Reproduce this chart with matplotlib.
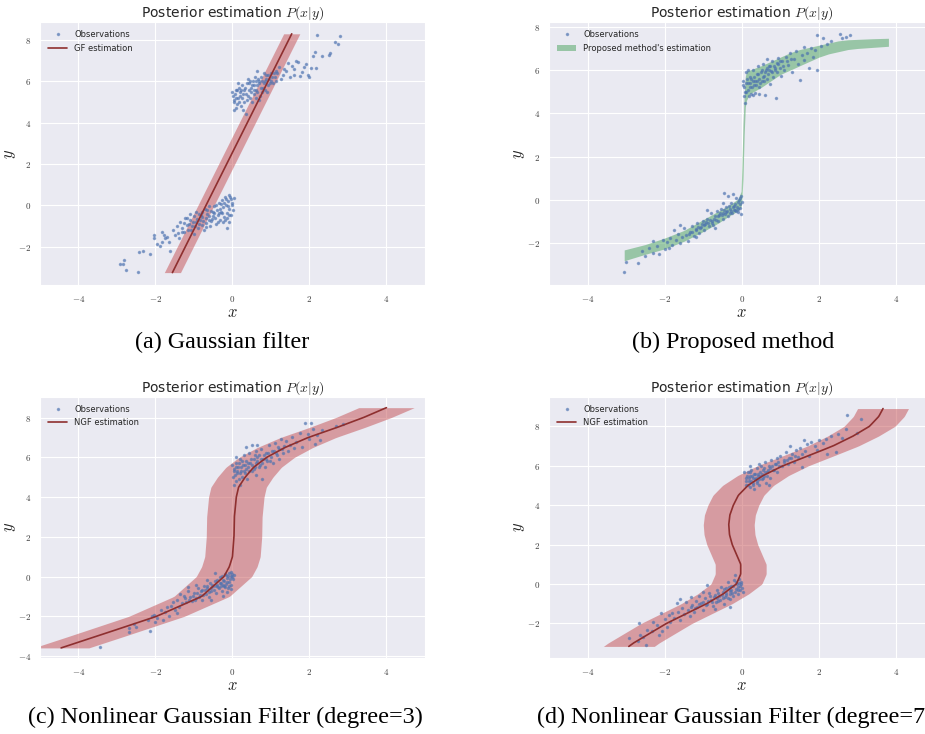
"""Posterior estimation P(x|y): Gaussian filter vs proposed method vs nonlinear Gaussian filters."""

import matplotlib
matplotlib.use("Agg")
import matplotlib.pyplot as plt
import numpy as np
import seaborn as sns
from matplotlib.ticker import FuncFormatter

sns.set_style("darkgrid")
plt.rcParams["font.family"] = ["DejaVu Sans"]
plt.rcParams["mathtext.fontset"] = "cm"

BLUE = "#4C72B0"
LINE_RED = "#8E2F2F"
BAND_RED = "#C44E52"
BAND_GREEN = "#55A868"

# ---------------------------------------------------------------- observations
obs_a = [
    # lower cluster
    (-2.83, -2.65), (-2.93, -2.84), (-2.84, -2.84), (-2.76, -3.13), (-2.46, -3.24),
    (-2.42, -2.24), (-2.33, -2.21), (-2.14, -2.36), (-2.04, -1.6), (-2.03, -1.44),
    (-1.97, -1.87), (-1.88, -1.95), (-1.84, -1.76), (-1.75, -1.6), (-1.79, -1.44),
    (-1.71, -1.52), (-1.64, -1.76), (-1.62, -2.21), (-1.84, -1.27), (-1.55, -1.2),
    (-1.5, -1.45), (-1.45, -1.0), (-1.42, -1.35), (-1.38, -1.6), (-1.35, -0.8),
    (-1.3, -1.1), (-1.25, -1.3), (-1.22, -0.6), (-1.18, -0.95), (-1.15, -1.2),
    (-1.1, -0.7), (-1.05, -1.0), (-1.0, -0.5), (-1.0, -1.4), (-0.95, -0.8),
    (-0.9, -1.1), (-0.88, -0.4), (-0.85, -0.7), (-0.8, -0.95), (-0.78, -0.3),
    (-0.75, -1.2), (-0.7, -0.6), (-0.68, -0.85), (-0.65, -0.2), (-0.6, -0.5),
    (-0.58, -1.0), (-0.55, -0.75), (-0.5, -0.3), (-0.48, -0.05), (-0.45, -0.6),
    (-0.42, -0.9), (-0.4, -0.2), (-0.38, -0.45), (-0.35, 0.1), (-0.32, -0.7),
    (-0.3, -0.3), (-0.28, 0.25), (-0.25, -0.1), (-0.22, -0.55), (-0.2, 0.4),
    (-0.18, 0.0), (-0.15, -0.35), (-0.12, 0.2), (-0.1, -0.8), (-0.1, 0.5),
    (-0.08, -0.15), (-0.05, 0.3), (-0.03, -0.45), (0.0, 0.1), (0.02, -0.2),
    (0.05, 0.35), (-0.6, -0.05), (-0.8, -0.55), (-0.95, -0.3), (-1.1, -0.4),
    (-0.5, -0.5), (-0.25, -0.8), (-0.15, -1.1), (-0.7, -1.05), (-0.35, -0.35),
    (-0.02, 0.0), (-0.07, 0.4), (-0.13, -0.6), (-0.17, 0.3), (-0.23, 0.1),
    (-0.27, -0.35), (-0.33, -0.15), (-0.37, -0.8), (-0.43, 0.0), (-0.47, -0.35),
    (-0.52, -0.65), (-0.57, -0.25), (-0.62, -0.7), (-0.67, -0.4), (-0.72, -0.15),
    (-0.77, -0.75), (-0.82, -0.45), (-0.87, -0.9), (-0.92, -0.65), (-0.97, -1.0),
    (-1.02, -0.8), (-1.07, -1.2), (-1.12, -0.9), (-1.17, -0.6), (-1.27, -0.85),
    (-1.32, -1.3), (-0.08, -0.45), (-0.12, -0.05), (-0.2, -0.7), (-0.3, 0.05),
    # upper cluster
    (2.19, 8.24), (2.8, 8.19), (2.67, 7.92), (2.74, 7.83), (2.15, 7.4),
    (2.1, 7.24), (2.32, 7.24), (2.51, 7.27), (2.54, 7.35), (2.04, 6.66),
    (2.17, 6.66), (1.95, 6.3), (1.9, 6.85), (1.85, 6.7), (1.65, 6.98),
    (1.7, 6.95), (1.6, 6.6), (1.55, 6.75), (1.45, 6.9), (1.4, 6.5),
    (1.8, 6.45), (1.5, 6.2), (1.35, 6.6), (1.3, 6.3), (1.2, 6.7),
    (1.25, 6.1), (1.15, 6.4), (1.6, 6.3), (2.0, 6.2), (1.75, 6.25),
    (0.0, 5.5), (0.05, 5.0), (0.1, 4.7), (0.02, 5.3), (0.08, 5.6),
    (0.15, 5.2), (0.2, 5.5), (0.12, 4.9), (0.25, 5.8), (0.3, 5.0),
    (0.35, 5.4), (0.28, 4.6), (0.4, 6.1), (0.42, 5.6), (0.45, 5.2),
    (0.5, 5.8), (0.55, 5.4), (0.6, 6.0), (0.62, 5.6), (0.65, 6.5),
    (0.7, 5.9), (0.72, 5.3), (0.75, 6.2), (0.8, 5.7), (0.85, 6.0),
    (0.88, 6.3), (0.9, 5.5), (0.95, 6.1), (1.0, 6.4), (1.05, 5.9),
    (1.1, 6.2), (1.12, 6.5), (0.35, 4.4), (0.18, 5.7), (0.22, 4.8),
    (0.5, 5.0), (0.58, 6.2), (0.68, 5.1), (0.78, 5.5), (0.82, 6.4),
    (0.3, 5.6), (0.15, 5.9), (0.38, 5.9), (0.48, 5.5), (0.05, 4.6),
    (0.92, 5.8), (1.0, 6.0), (0.6, 5.2), (0.25, 5.2), (0.7, 6.0),
    (0.03, 5.1), (0.07, 5.4), (0.1, 5.2), (0.13, 5.6), (0.17, 5.0),
    (0.23, 5.6), (0.27, 5.4), (0.33, 5.7), (0.37, 5.1), (0.43, 5.9),
    (0.47, 5.7), (0.53, 6.0), (0.57, 5.6), (0.63, 5.8), (0.67, 6.1),
    (0.73, 5.7), (0.77, 6.0), (0.83, 5.9), (0.87, 6.1), (0.93, 6.3),
    (0.97, 5.9), (1.03, 6.2), (1.07, 6.4), (1.13, 6.0), (0.4, 5.3),
    (0.55, 5.8), (0.2, 5.3), (0.85, 5.6), (0.65, 5.5), (0.45, 6.0),
]

obs_b = [
    (-3.05, -3.3), (-3.0, -2.85), (-2.7, -2.9), (-2.6, -2.35), (-2.5, -2.6),
    (-2.4, -2.2), (-2.3, -2.45), (-2.2, -2.1), (-2.15, -2.5), (-2.05, -1.85),
    (-2.0, -2.25), (-1.95, -1.95), (-1.9, -2.2), (-1.85, -1.75), (-1.8, -2.05),
    (-1.75, -1.4), (-1.7, -1.85), (-1.65, -1.55), (-1.6, -2.0), (-1.55, -1.7),
    (-1.5, -1.3), (-1.45, -1.6), (-1.4, -1.9), (-1.35, -1.45), (-1.3, -1.2),
    (-1.25, -1.65), (-1.2, -1.35), (-1.15, -1.05), (-1.1, -1.5), (-1.05, -1.25),
    (-1.0, -0.95), (-0.98, -1.4), (-0.95, -1.1), (-0.9, -0.85), (-0.85, -1.2),
    (-0.8, -0.6), (-0.78, -0.95), (-0.75, -1.15), (-0.7, -0.75), (-0.65, -0.5),
    (-0.62, -0.95), (-0.6, -0.7), (-0.55, -0.4), (-0.5, -0.85), (-0.48, -0.6),
    (-0.45, 0.35), (-0.42, -0.3), (-0.4, -0.55), (-0.35, 0.2), (-0.35, -0.75),
    (-0.3, -0.4), (-0.28, -0.15), (-0.25, -0.6), (-0.22, 0.3), (-0.2, -0.25),
    (-0.18, -0.45), (-0.15, 0.1), (-0.12, -0.3), (-0.1, -0.55), (-0.08, 0.0),
    (-0.05, -0.2), (-0.03, -0.65), (-0.02, 0.2), (0.0, -0.1), (-0.9, -0.45),
    (-1.2, -1.7), (-1.6, -1.15), (-2.3, -1.9), (-0.7, -1.3), (-0.5, -0.15),
    (-0.04, -0.35), (-0.06, 0.1), (-0.09, -0.4), (-0.11, -0.1), (-0.14, -0.5),
    (-0.17, -0.2), (-0.21, -0.45), (-0.24, -0.3), (-0.27, -0.5), (-0.31, -0.6),
    (-0.33, -0.25), (-0.38, -0.5), (-0.44, -0.65), (-0.47, -0.45), (-0.52, -0.7),
    (-0.57, -0.6), (-0.63, -0.75), (-0.68, -0.9), (-0.73, -0.85), (-0.77, -1.05),
    (-0.83, -0.9), (-0.88, -1.05), (-0.93, -1.0), (-0.97, -1.15), (-1.03, -1.1),
    (-1.08, -1.3), (-1.13, -1.25), (-1.18, -1.4), (-1.28, -1.45), (-1.38, -1.55),
    (0.02, 5.5), (0.05, 4.8), (0.05, 5.2), (0.08, 4.5), (0.1, 5.9),
    (0.12, 5.0), (0.15, 5.4), (0.18, 4.8), (0.2, 5.7), (0.22, 5.2),
    (0.25, 4.9), (0.28, 5.5), (0.3, 6.0), (0.32, 5.3), (0.35, 4.95),
    (0.38, 5.8), (0.4, 5.5), (0.42, 6.2), (0.45, 5.2), (0.5, 5.9),
    (0.52, 5.5), (0.55, 6.3), (0.58, 5.75), (0.6, 4.85), (0.62, 6.0),
    (0.65, 5.6), (0.7, 6.2), (0.72, 5.35), (0.75, 5.95), (0.78, 6.4),
    (0.8, 5.7), (0.85, 6.1), (0.88, 4.7), (0.9, 6.35), (0.92, 5.9),
    (0.95, 6.55), (1.0, 6.1), (1.02, 5.75), (1.05, 6.4), (1.1, 6.0),
    (1.15, 6.6), (1.2, 6.25), (1.25, 6.8), (1.3, 5.9), (1.35, 6.5),
    (1.4, 6.9), (1.45, 6.3), (1.5, 5.55), (1.55, 6.7), (1.6, 7.05),
    (1.62, 6.45), (1.7, 6.8), (1.75, 6.1), (1.8, 7.0), (1.85, 6.6),
    (1.9, 6.95), (1.95, 7.6), (1.95, 6.0), (2.05, 7.1), (2.1, 7.5),
    (2.2, 7.2), (2.3, 7.35), (2.55, 7.65), (2.6, 7.5), (2.7, 7.55),
    (2.8, 7.6), (0.15, 6.0), (0.3, 4.85), (0.45, 4.9), (0.65, 6.5),
    (0.04, 5.3), (0.07, 5.0), (0.1, 5.4), (0.13, 5.6), (0.17, 5.1),
    (0.21, 5.4), (0.24, 5.6), (0.27, 5.2), (0.31, 5.7), (0.34, 5.5),
    (0.37, 5.3), (0.41, 5.8), (0.44, 5.6), (0.48, 5.4), (0.51, 6.0),
    (0.54, 5.7), (0.57, 5.5), (0.61, 5.9), (0.64, 6.1), (0.68, 5.8),
    (0.71, 6.0), (0.74, 6.2), (0.79, 5.9), (0.83, 6.2), (0.87, 6.0),
    (0.94, 6.3), (0.98, 6.4), (1.07, 6.2), (1.17, 6.4), (1.27, 6.5),
]

obs_c = [
    (-3.45, -3.55), (-2.7, -2.8), (-2.7, -2.6), (-2.55, -2.4), (-2.15, -2.75),
    (-2.1, -2.0), (-2.05, -1.95), (-2.0, -2.3), (-1.95, -2.1), (-1.85, -1.7),
    (-1.8, -2.2), (-1.75, -1.8), (-1.7, -1.55), (-1.65, -2.0), (-1.6, -1.5),
    (-1.55, -1.3), (-1.5, -1.7), (-1.45, -1.2), (-1.4, -1.55), (-1.35, -0.9),
    (-1.3, -1.35), (-1.25, -1.0), (-1.2, -1.3), (-1.15, -0.75), (-1.1, -1.05),
    (-1.05, -1.25), (-1.0, -0.85), (-0.95, -1.1), (-0.9, -0.6), (-0.85, -0.95),
    (-0.8, -1.2), (-0.78, -0.7), (-0.75, -0.45), (-0.7, -0.9), (-0.65, -0.6),
    (-0.6, -1.05), (-0.58, -0.3), (-0.55, -0.75), (-0.5, -0.5), (-0.45, -0.2),
    (-0.42, -0.85), (-0.4, -0.4), (-0.35, -0.6), (-0.32, 0.0), (-0.3, -0.3),
    (-0.28, -0.75), (-0.25, -0.15), (-0.22, -0.5), (-0.2, 0.15), (-0.18, -0.35),
    (-0.15, -0.05), (-0.12, -0.6), (-0.1, 0.2), (-0.08, -0.25), (-0.05, 0.05),
    (-0.03, -0.4), (0.0, 0.15), (0.02, -0.1), (0.05, 0.1), (-0.45, 0.2),
    (-0.65, -0.15), (-0.95, -0.4), (-1.15, -0.55), (-0.25, -1.0), (-0.15, -0.8),
    (-1.45, -1.85), (-2.2, -2.2), (-2.5, -2.55), (-0.55, -1.2), (-0.05, -0.65),
    (-0.02, 0.0), (-0.04, 0.25), (-0.07, -0.1), (-0.09, -0.45), (-0.11, 0.05),
    (-0.14, -0.25), (-0.17, 0.1), (-0.19, -0.55), (-0.21, -0.2), (-0.24, -0.4),
    (-0.27, 0.05), (-0.29, -0.5), (-0.33, -0.3), (-0.37, -0.55), (-0.39, -0.15),
    (-0.43, -0.5), (-0.47, -0.7), (-0.52, -0.4), (-0.57, -0.6), (-0.62, -0.8),
    (-0.67, -0.45), (-0.72, -0.7), (-0.77, -0.95), (-0.82, -0.75), (-0.87, -1.05),
    (-0.92, -0.85), (-0.97, -1.2), (-1.03, -1.0), (-1.12, -1.2), (-1.22, -1.1),
    (0.0, 5.6), (0.02, 5.0), (0.03, 4.6), (0.05, 5.3), (0.08, 5.7),
    (0.1, 4.8), (0.12, 5.2), (0.15, 5.5), (0.18, 4.9), (0.2, 5.9),
    (0.22, 5.3), (0.25, 5.0), (0.28, 5.6), (0.3, 6.1), (0.32, 5.2),
    (0.35, 5.8), (0.38, 4.9), (0.4, 5.5), (0.42, 6.2), (0.45, 5.7),
    (0.5, 6.6), (0.5, 5.3), (0.55, 5.9), (0.58, 5.5), (0.6, 6.3),
    (0.62, 5.1), (0.65, 5.8), (0.7, 6.1), (0.72, 5.6), (0.75, 6.4),
    (0.78, 4.9), (0.8, 5.9), (0.85, 5.5), (0.88, 6.2), (0.9, 5.8),
    (0.95, 6.6), (1.0, 6.0), (1.05, 5.7), (1.08, 6.3), (1.1, 6.7),
    (1.15, 6.1), (1.2, 6.4), (1.22, 5.9), (1.25, 6.9), (1.3, 6.2),
    (1.35, 6.55), (1.4, 6.8), (1.45, 6.3), (1.5, 6.6), (1.55, 7.0),
    (1.6, 6.45), (1.65, 6.75), (1.8, 6.5), (1.89, 7.73), (2.04, 7.74),
    (2.1, 7.44), (2.32, 7.36), (2.69, 7.6), (2.88, 7.7), (2.15, 6.68),
    (2.28, 6.85), (1.95, 7.15), (2.0, 6.9), (2.2, 7.1), (1.75, 7.2),
    (0.35, 6.5), (0.1, 6.0), (0.2, 4.6), (0.65, 6.6),
    (0.03, 5.4), (0.06, 5.1), (0.09, 5.5), (0.13, 5.3), (0.16, 5.7),
    (0.19, 5.2), (0.23, 5.5), (0.26, 5.8), (0.29, 5.3), (0.33, 5.6),
    (0.36, 5.4), (0.41, 5.7), (0.44, 5.3), (0.47, 5.9), (0.52, 5.6),
    (0.56, 5.4), (0.61, 5.7), (0.64, 6.0), (0.68, 5.5), (0.73, 5.9),
    (0.77, 5.7), (0.82, 6.1), (0.87, 5.9), (0.92, 6.2), (0.97, 5.8),
    (1.02, 6.3), (1.12, 6.2), (1.18, 6.5), (1.28, 6.4), (0.58, 6.1),
]

obs_d = [
    (-2.93, -2.72), (-2.66, -1.99), (-2.49, -3.12), (-2.64, -2.58), (-2.7, -2.9),
    (-2.55, -2.7), (-2.45, -2.35), (-2.34, -2.41), (-2.3, -1.95), (-2.2, -2.1),
    (-2.15, -2.6), (-2.1, -1.49), (-2.08, -2.41), (-2.0, -1.8), (-1.95, -2.2),
    (-1.9, -1.6), (-1.85, -1.95), (-1.8, -1.5), (-1.75, -1.75), (-1.69, -0.95),
    (-1.65, -1.4), (-1.6, -1.85), (-1.55, -1.2), (-1.5, -1.55), (-1.45, -0.9),
    (-1.4, -1.3), (-1.35, -1.65), (-1.33, -0.64), (-1.3, -1.05), (-1.25, -1.4),
    (-1.2, -0.85), (-1.15, -1.15), (-1.1, -0.6), (-1.05, -0.95), (-1.0, -1.3),
    (-0.95, -0.7), (-0.91, -0.05), (-0.9, -1.0), (-0.85, -0.45), (-0.8, -0.8),
    (-0.75, -1.1), (-0.7, -0.55), (-0.65, -0.3), (-0.62, -0.85), (-0.6, -0.6),
    (-0.55, -0.15), (-0.5, -0.7), (-0.48, -0.4), (-0.45, -1.0), (-0.42, -0.2),
    (-0.4, -0.55), (-0.35, 0.1), (-0.32, -0.35), (-0.3, -0.75), (-0.28, -0.1),
    (-0.25, -0.45), (-0.2, 0.2), (-0.18, 0.46), (-0.15, -0.25), (-0.12, 0.0),
    (-0.1, -0.5), (-0.08, 0.25), (-0.05, -0.3), (-0.03, 0.1), (0.0, -0.2),
    (0.02, -0.4), (-0.7, -1.25), (-1.0, -0.4), (-0.3, -1.15), (-1.6, -0.75),
    (-0.02, 0.0), (-0.04, -0.1), (-0.07, 0.05), (-0.09, -0.3), (-0.11, -0.15),
    (-0.14, 0.1), (-0.17, -0.4), (-0.22, -0.1), (-0.24, -0.6), (-0.27, -0.3),
    (-0.31, -0.5), (-0.34, -0.15), (-0.37, -0.7), (-0.41, -0.45), (-0.44, -0.65),
    (-0.47, -0.25), (-0.52, -0.55), (-0.57, -0.8), (-0.61, -0.45), (-0.64, -0.7),
    (-0.68, -0.9), (-0.72, -0.65), (-0.77, -0.9), (-0.82, -0.6), (-0.87, -0.85),
    (-0.93, -1.05), (-1.02, -0.9), (-1.12, -1.0), (-1.22, -1.2), (-1.32, -1.15),
    (0.1, 5.4), (0.12, 5.0), (0.15, 5.7), (0.18, 5.2), (0.2, 4.9),
    (0.22, 5.5), (0.25, 5.8), (0.28, 5.1), (0.3, 5.4), (0.32, 4.8),
    (0.35, 5.6), (0.38, 5.2), (0.4, 5.9), (0.42, 5.5), (0.45, 5.0),
    (0.48, 5.7), (0.5, 6.0), (0.52, 5.3), (0.55, 5.8), (0.58, 5.5),
    (0.6, 6.2), (0.62, 5.1), (0.65, 5.7), (0.7, 6.0), (0.72, 5.4),
    (0.75, 6.3), (0.8, 5.8), (0.85, 6.1), (0.9, 6.4), (0.92, 5.7),
    (0.95, 6.2), (1.0, 6.5), (1.05, 6.0), (1.1, 6.3), (1.15, 6.7),
    (1.2, 6.1), (1.22, 6.4), (1.25, 7.0), (1.3, 6.6), (1.35, 6.2),
    (1.4, 6.8), (1.45, 6.45), (1.5, 6.9), (1.55, 6.6), (1.56, 5.94),
    (1.6, 7.3), (1.65, 6.75), (1.7, 7.1), (1.75, 6.5), (1.8, 7.2),
    (1.9, 7.0), (1.95, 6.8), (2.0, 7.3), (2.1, 7.15), (2.19, 7.38),
    (2.2, 6.6), (2.3, 7.5), (2.43, 6.7), (2.5, 7.6), (2.71, 7.88),
    (2.73, 8.59), (2.99, 7.68), (3.08, 8.39), (2.6, 7.4), (0.2, 6.0),
    (0.05, 5.7), (0.7, 5.0), (0.45, 6.1),
    (0.11, 5.2), (0.14, 5.5), (0.16, 5.0), (0.19, 5.4), (0.21, 5.7),
    (0.24, 5.2), (0.27, 5.5), (0.29, 5.0), (0.31, 5.6), (0.34, 5.3),
    (0.37, 5.4), (0.39, 5.1), (0.41, 5.6), (0.44, 5.3), (0.47, 5.5),
    (0.51, 5.6), (0.54, 5.4), (0.57, 5.9), (0.61, 5.7), (0.64, 5.5),
    (0.68, 5.8), (0.74, 5.9), (0.79, 6.0), (0.84, 5.8), (0.89, 6.1),
    (0.97, 6.0), (1.08, 6.2), (1.18, 6.3), (1.28, 6.4), (1.38, 6.5),
]

# ---------------------------------------------------------------- estimates
# (a) Gaussian filter: mean x as a function of y, constant width in x
gf_y = [-3.25, 8.3]
gf_x = [-1.56, 1.54]
gf_halfwidth = 0.21

# (b) proposed method: band in y over x
prop_x = [-3.05, -2.5, -2.0, -1.5, -1.0, -0.6, -0.3, -0.1, -0.02, 0.0, 0.03, 0.06,
          0.09, 0.12, 0.2, 0.5, 0.75, 1.0, 1.25, 1.5, 1.75, 2.0, 2.25, 2.5, 2.75,
          3.0, 3.4, 3.8]
prop_lo = [-2.8, -2.5, -2.25, -1.9, -1.45, -1.05, -0.7, -0.5, -0.3, 0.0, 1.0, 3.0,
           4.3, 4.6, 4.9, 5.2, 5.5, 5.8, 6.0, 6.2, 6.4, 6.6, 6.75, 6.85, 6.95,
           7.0, 7.05, 7.1]
prop_hi = [-2.3, -2.05, -1.75, -1.4, -0.9, -0.5, -0.2, 0.05, 0.4, 1.5, 3.5, 4.8,
           5.7, 5.95, 6.0, 6.2, 6.4, 6.6, 6.8, 6.95, 7.05, 7.15, 7.25, 7.35, 7.4,
           7.42, 7.45, 7.47]

# (c) NGF degree 3
ngf3_y = [-3.59, -3.0, -2.0, -1.0, 0.0, 0.5, 1.0, 2.0, 3.0, 4.0, 4.5, 5.0, 5.5,
          6.0, 6.5, 7.0, 7.5, 8.0, 8.5]
ngf3_x = [-4.45, -3.52, -1.97, -0.8, -0.22, -0.08, 0.0, 0.04, 0.05, 0.1, 0.16,
          0.33, 0.55, 0.89, 1.37, 1.97, 2.71, 3.4, 4.0]
ngf3_halfwidth = 0.72

# (d) NGF degree 7
ngf7_y = [-3.17, -3.0, -2.0, -1.0, -0.5, 0.0, 0.5, 1.0, 1.5, 2.0, 2.5, 3.0, 3.5,
          4.0, 4.5, 5.0, 5.5, 6.0, 6.5, 7.0, 7.5, 8.0, 8.5, 8.9]
ngf7_x = [-2.93, -2.81, -1.95, -0.91, -0.48, -0.14, -0.03, -0.03, -0.14, -0.25,
          -0.32, -0.34, -0.31, -0.22, -0.09, 0.16, 0.55, 1.07, 1.72, 2.36, 2.88,
          3.31, 3.55, 3.66]
ngf7_halfwidth = 0.66

captions = [
    "(a) Gaussian filter",
    "(b) Proposed method",
    "(c) Nonlinear Gaussian Filter (degree=3)",
    "(d) Nonlinear Gaussian Filter (degree=7)",
]
y_limits = [(-3.85, 8.87), (-3.92, 8.22), (-4.1, 9.05), (-3.76, 9.5)]
y_ticks = [[-2, 0, 2, 4, 6, 8], [-2, 0, 2, 4, 6, 8], [-4, -2, 0, 2, 4, 6, 8],
           [-2, 0, 2, 4, 6, 8]]


def smooth_curve(y_pts, x_pts, n=200):
    """Resample a hand-read curve densely along y for a smoother band edge."""
    yy = np.linspace(y_pts[0], y_pts[-1], n)
    return yy, np.interp(yy, y_pts, x_pts)


def style_axes(ax, ylim, yticks):
    ax.set_xlim(-5, 5)
    ax.set_ylim(*ylim)
    ax.set_xticks([-4, -2, 0, 2, 4])
    ax.set_yticks(yticks)
    fmt = FuncFormatter(lambda v, _: f"${v:g}$")
    ax.xaxis.set_major_formatter(fmt)
    ax.yaxis.set_major_formatter(fmt)
    ax.tick_params(labelsize=6.5, pad=3, colors=".25")
    ax.set_title("Posterior estimation $P(x|y)$", fontsize=10, pad=4)
    ax.set_xlabel("$x$", fontsize=12)
    ax.set_ylabel("$y$", fontsize=12)
    ax.xaxis.set_label_coords(0.5, -0.068)
    ax.yaxis.set_label_coords(-0.058, 0.5)


def plot_obs(ax, obs):
    pts = np.array(obs)
    ax.plot(pts[:, 0], pts[:, 1], ".", color=BLUE, ms=3, alpha=0.55,
            label="Observations")


def main():
    fig = plt.figure(figsize=(9.25, 7.34), dpi=100)
    positions = [
        [0.0432, 0.6117, 0.4162, 0.3583],
        [0.5935, 0.6117, 0.4170, 0.3583],
        [0.0432, 0.1035, 0.4162, 0.3560],
        [0.5935, 0.1035, 0.4170, 0.3560],
    ]
    axes = [fig.add_axes(p) for p in positions]

    # (a)
    ax = axes[0]
    plot_obs(ax, obs_a)
    gy = np.array(gf_y)
    gx = np.array(gf_x)
    ax.fill_betweenx(gy, gx - gf_halfwidth, gx + gf_halfwidth, color=BAND_RED,
                     alpha=0.5, lw=0)
    ax.plot(gx, gy, color=LINE_RED, lw=1.2, label="GF estimation")

    # (b)
    ax = axes[1]
    plot_obs(ax, obs_b)
    ax.fill_between(prop_x, prop_lo, prop_hi, color=BAND_GREEN, alpha=0.55, lw=0,
                    label="Proposed method's estimation")

    # (c), (d)
    for ax, obs, cy, cx, hw in [(axes[2], obs_c, ngf3_y, ngf3_x, ngf3_halfwidth),
                                (axes[3], obs_d, ngf7_y, ngf7_x, ngf7_halfwidth)]:
        plot_obs(ax, obs)
        yy, xx = smooth_curve(cy, cx)
        ax.fill_betweenx(yy, xx - hw, xx + hw, color=BAND_RED, alpha=0.5, lw=0)
        ax.plot(xx, yy, color=LINE_RED, lw=1.2, label="NGF estimation")

    for ax, ylim, yt in zip(axes, y_limits, y_ticks):
        style_axes(ax, ylim, yt)
        ax.legend(loc="upper left", frameon=False, fontsize=6, handlelength=2.3,
                  borderaxespad=0.6, labelspacing=0.5)

    # the (d) caption runs slightly past the right edge, as in the source figure
    caption_pos = [(0.2405, 0.533), (0.793, 0.533), (0.2438, 0.022), (0.795, 0.022)]
    for text, (cx, cy) in zip(captions, caption_pos):
        fig.text(cx, cy, text, ha="center", va="center", fontsize=17.4,
                 family="Liberation Serif", color="black")

    fig.savefig("out.png", dpi=100)
    plt.close(fig)


if __name__ == "__main__":
    main()
